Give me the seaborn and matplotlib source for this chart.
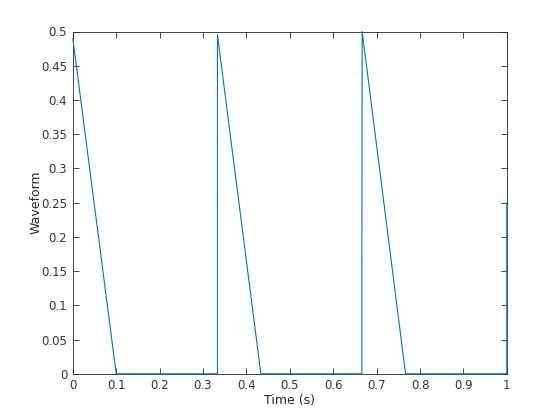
import numpy as np
import pandas as pd
import matplotlib
matplotlib.use("Agg")
import matplotlib.pyplot as plt
import seaborn as sns

# breakpoints of the waveform
time_s = [0.0, 0.1, 0.3333, 0.3333, 0.4333, 0.6660, 0.6660, 0.6667, 0.7667, 1.0, 1.0]
waveform = [0.49, 0.0, 0.0, 0.495, 0.0, 0.0, 0.082, 0.5, 0.0, 0.0, 0.25]

x_ticks = [0, 0.1, 0.2, 0.3, 0.4, 0.5, 0.6, 0.7, 0.8, 0.9, 1]
x_labels = ["0", "0.1", "0.2", "0.3", "0.4", "0.5", "0.6", "0.7", "0.8", "0.9", "1"]
y_ticks = [0, 0.05, 0.1, 0.15, 0.2, 0.25, 0.3, 0.35, 0.4, 0.45, 0.5]
y_labels = ["0", "0.05", "0.1", "0.15", "0.2", "0.25", "0.3", "0.35", "0.4", "0.45", "0.5"]

df = pd.DataFrame({"t": time_s, "y": waveform})

sns.set_style("white")
plt.rcParams["font.family"] = ["DejaVu Sans"]

fig = plt.figure(figsize=(5.6, 4.2), dpi=100)
ax = fig.add_axes([0.13, 0.11, 0.775, 0.815])

sns.lineplot(data=df, x="t", y="y", sort=False, estimator=None,
             color="#0072BD", linewidth=0.8, ax=ax, zorder=5, clip_on=False)

ax.set_xlim(0, 1)
ax.set_ylim(0, 0.5)
ax.set_xticks(x_ticks)
ax.set_xticklabels(x_labels)
ax.set_yticks(y_ticks)
ax.set_yticklabels(y_labels)
ax.set_xlabel("Time (s)", fontsize=9, color="#262626", labelpad=1)
ax.set_ylabel("Waveform", fontsize=9, color="#262626", labelpad=-1)

ax.tick_params(direction="in", length=4, width=0.6, colors="#262626",
               labelsize=8.5, top=True, right=True, bottom=True, left=True, pad=4)
ax.tick_params(axis="both", labelcolor="#333333")
for s in ax.spines.values():
    s.set_color("#262626")
    s.set_linewidth(0.6)

fig.savefig("out.png", dpi=100)
